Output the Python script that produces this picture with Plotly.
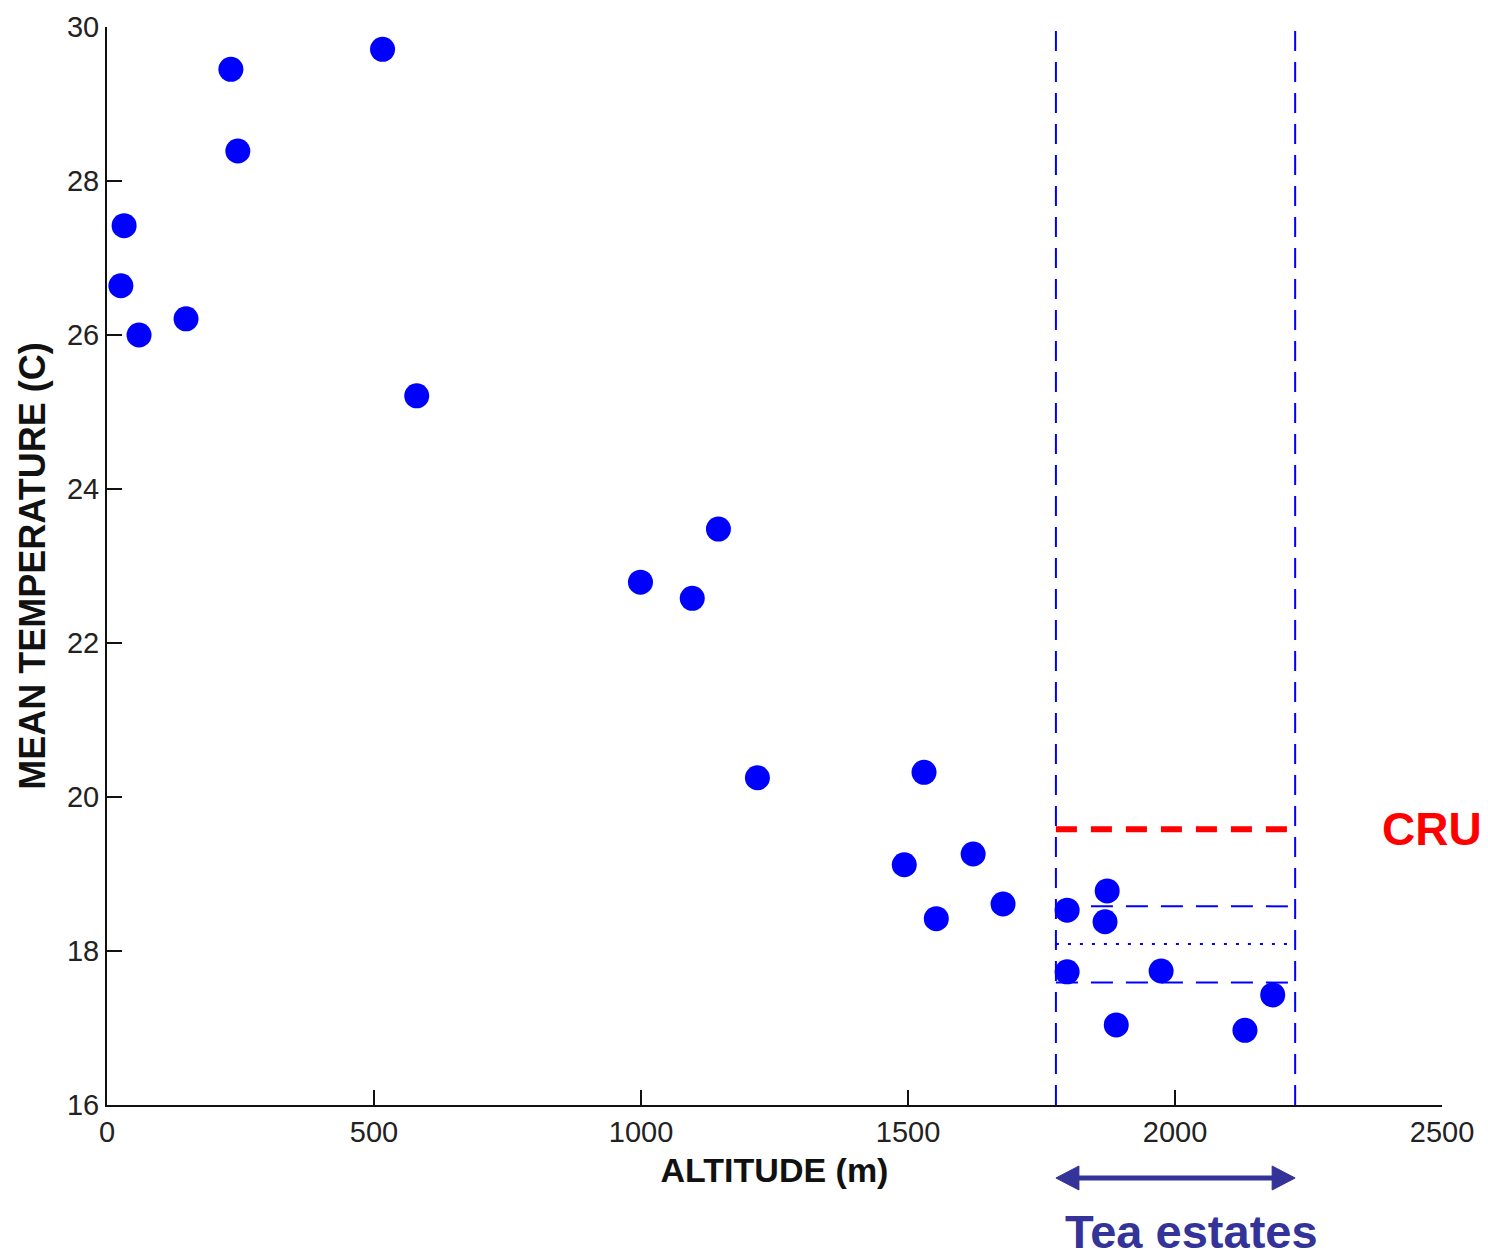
import plotly.graph_objects as go

# Station observations: altitude (m) vs mean annual temperature (C)
altitude = [26, 32, 60, 148, 232, 245, 516, 580, 999, 1096, 1145, 1218,
            1530, 1493, 1553, 1622, 1678, 1798, 1873, 1869, 1798, 1974,
            1890, 2131, 2183]
mean_temp = [26.64, 27.42, 26.0, 26.21, 29.45, 28.39, 29.71, 25.21, 22.79,
             22.58, 23.48, 20.25, 20.32, 19.12, 18.42, 19.26, 18.61, 18.53,
             18.78, 18.38, 17.73, 17.74, 17.04, 16.97, 17.43]

# Altitude band of the tea estates and summary temperatures over it
tea_range = [1777, 2225]
cru_temp = 19.58
station_mean = 18.09
station_band = [17.59, 18.58]

x_range = [0, 2500]
y_range = [16, 30]
x_ticks = [0, 500, 1000, 1500, 2000, 2500]
y_ticks = [16, 18, 20, 22, 24, 26, 28, 30]

W, H = 1488, 1259
ML, MR, MT, MB = 107, 46, 27, 154
plot_w = W - ML - MR
plot_h = H - MT - MB

BLUE = "#0000ff"
NAVY = "#333399"

fig = go.Figure()

# tea estate boundaries
for xv in tea_range:
    fig.add_trace(go.Scatter(
        x=[xv, xv], y=y_range, mode="lines",
        line=dict(color=BLUE, width=2, dash="20px,11px"),
        hoverinfo="skip", showlegend=False))

# station mean and +/- band
for yv in station_band:
    fig.add_trace(go.Scatter(
        x=tea_range, y=[yv, yv], mode="lines",
        line=dict(color=BLUE, width=2, dash="22px,13px"),
        hoverinfo="skip", showlegend=False))
fig.add_trace(go.Scatter(
    x=tea_range, y=[station_mean, station_mean], mode="lines",
    line=dict(color=BLUE, width=2, dash="3px,9px"),
    hoverinfo="skip", showlegend=False))

# CRU gridded estimate
fig.add_trace(go.Scatter(
    x=[tea_range[0], tea_range[1] - 5], y=[cru_temp, cru_temp], mode="lines",
    line=dict(color="#ff0000", width=6, dash="21px,14px"),
    hoverinfo="skip", showlegend=False))

# stations
fig.add_trace(go.Scatter(
    x=altitude, y=mean_temp, mode="markers",
    marker=dict(color=BLUE, size=25, line=dict(width=0)),
    showlegend=False))


def px_to_paper_x(px):
    return (px - ML) / plot_w


def px_to_paper_y(py):
    return (H - MB - py) / plot_h


# double-headed arrow spanning the tea estate band, below the axis
arrow_y = px_to_paper_y(1178)
head_len = 23 / plot_w * (x_range[1] - x_range[0])
head_half = 12 / plot_h
x0, x1 = tea_range
shapes = [
    dict(type="line", xref="x", yref="paper", x0=x0 + head_len * 0.8, x1=x1 - head_len * 0.8,
         y0=arrow_y, y1=arrow_y, line=dict(color=NAVY, width=5)),
    dict(type="path", xref="x", yref="paper",
         path=f"M {x0} {arrow_y} L {x0 + head_len} {arrow_y + head_half} "
              f"L {x0 + head_len} {arrow_y - head_half} Z",
         fillcolor=NAVY, line=dict(color=NAVY, width=1)),
    dict(type="path", xref="x", yref="paper",
         path=f"M {x1} {arrow_y} L {x1 - head_len} {arrow_y + head_half} "
              f"L {x1 - head_len} {arrow_y - head_half} Z",
         fillcolor=NAVY, line=dict(color=NAVY, width=1)),
]

annotations = [
    dict(text="<b>CRU</b>", xref="paper", yref="y", x=px_to_paper_x(1432), y=cru_temp,
         xanchor="center", yanchor="middle", showarrow=False,
         font=dict(family="Liberation Sans, Arial, sans-serif", size=46, color="#ff0000")),
    dict(text="<b>Tea estates</b>", xref="paper", yref="paper",
         x=px_to_paper_x(1191), y=px_to_paper_y(1260),
         xanchor="center", yanchor="bottom", showarrow=False,
         font=dict(family="Liberation Sans, Arial, sans-serif", size=47, color=NAVY)),
]

tick_font = dict(family="Liberation Sans, Arial, sans-serif", size=29, color="#222222")
title_font = dict(family="Liberation Sans, Arial, sans-serif", size=34, color="#111111")

fig.update_layout(
    width=W, height=H,
    margin=dict(l=ML, r=MR, t=MT, b=MB, autoexpand=False),
    paper_bgcolor="white", plot_bgcolor="white",
    shapes=shapes, annotations=annotations,
    xaxis=dict(range=x_range, tickvals=x_ticks, ticktext=[str(v) for v in x_ticks],
               showgrid=False, zeroline=False, showline=True, linecolor="#111111",
               linewidth=2, ticks="inside", ticklen=15, tickwidth=2, tickcolor="#111111",
               tickfont=tick_font,
               title=dict(text="<b>ALTITUDE (m)</b>", font=title_font, standoff=11)),
    yaxis=dict(range=y_range, tickvals=y_ticks, ticktext=[str(v) for v in y_ticks],
               showgrid=False, zeroline=False, showline=True, linecolor="#111111",
               linewidth=2, ticks="inside", ticklen=15, tickwidth=2, tickcolor="#111111",
               tickfont=tick_font,
               title=dict(text="<b>MEAN TEMPERATURE (C)</b>",
                          font=dict(family=title_font["family"], size=36, color="#111111"),
                          standoff=10)),
)

fig.write_html("out.html")
